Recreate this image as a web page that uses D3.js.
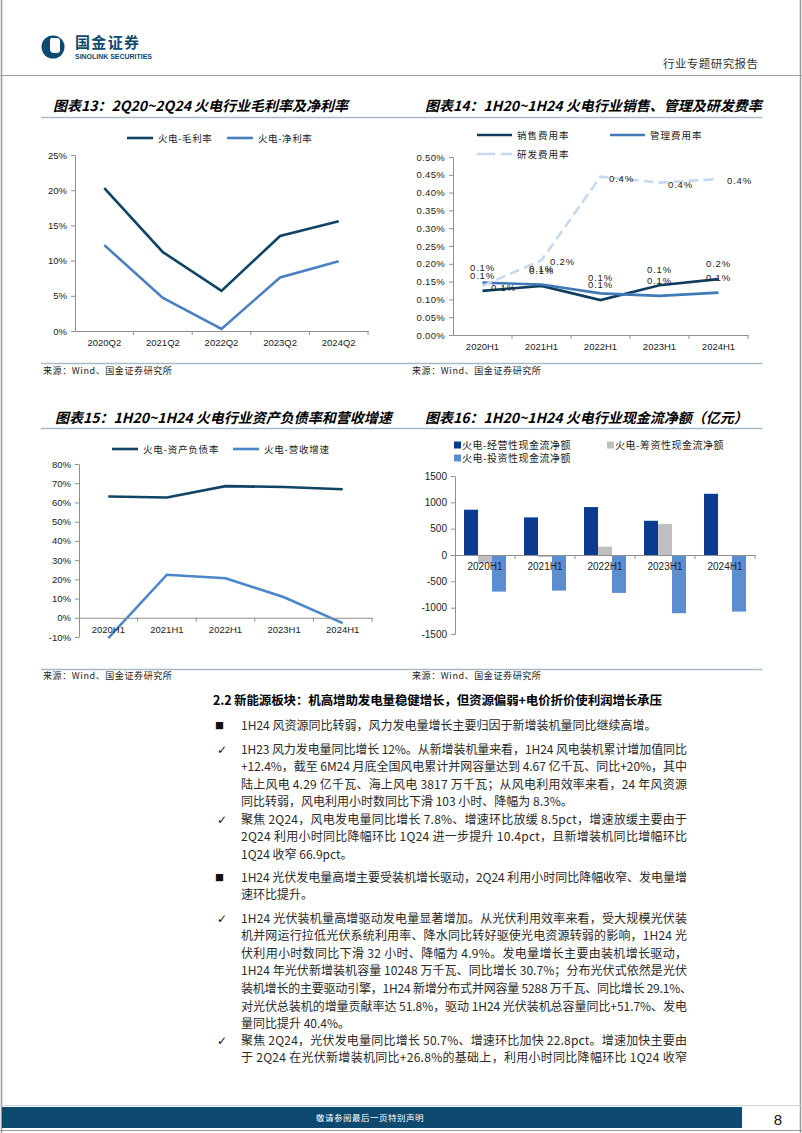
<!DOCTYPE html>
<html><head><meta charset="utf-8">
<script src="https://cdn.jsdelivr.net/npm/d3@7"></script>
<style>body{margin:0;background:#fff}svg{display:block}</style>
</head><body><svg id="c" width="802" height="1133"></svg>
<script>
const CJK = "'Noto Sans CJK SC','Noto Sans CJK JP',sans-serif";
const LAT = "'Liberation Sans',Arial,sans-serif";

// ---------- data ----------
const c13Cats = ["2020Q2","2021Q2","2022Q2","2023Q2","2024Q2"];
const grossMargin = [20.3, 11.2, 5.7, 13.5, 15.6];
const netMargin = [12.2, 4.7, 0.3, 7.6, 9.9];
const c13Ticks = [0,5,10,15,20,25];
const c13Series = ["火电-毛利率","火电-净利率"];

const halfCats = ["2020H1","2021H1","2022H1","2023H1","2024H1"];
const sellingRate = [0.124, 0.138, 0.098, 0.140, 0.157];
const adminRate = [0.147, 0.142, 0.117, 0.110, 0.119];
const rdRate = [0.138, 0.210, 0.445, 0.428, 0.438];
const c14Ticks = [0,0.05,0.10,0.15,0.20,0.25,0.30,0.35,0.40,0.45,0.50];
const c14Series = ["销售费用率","管理费用率","研发费用率"];

const debtRatio = [63.1, 62.6, 68.5, 68.0, 66.9];
const revenueGrowth = [-10.6, 22.4, 20.6, 10.7, -2.8];
const c15Ticks = [-10,0,10,20,30,40,50,60,70,80];
const c15Series = ["火电-资产负债率","火电-营收增速"];

const operatingCF = [860, 714, 910, 650, 1162];
const financingCF = [-160, -40, 158, 587, -10];
const investingCF = [-695, -676, -720, -1105, -1074];
const c16Ticks = [-1500,-1000,-500,0,500,1000,1500];
const c16Series = ["火电-经营性现金流净额","火电-筹资性现金流净额","火电-投资性现金流净额"];

const titles = ["图表13：2Q20~2Q24 火电行业毛利率及净利率","图表14：1H20~1H24 火电行业销售、管理及研发费率","图表15：1H20~1H24 火电行业资产负债率和营收增速","图表16：1H20~1H24 火电行业现金流净额（亿元）"];
const sourceText = "来源：Wind、国金证券研究所";
const heading = "2.2 新能源板块：机高增助发电量稳健增长，但资源偏弱+电价折价使利润增长承压";
const bodyParas = [
 {mark:"■", lines:["1H24 风资源同比转弱，风力发电量增长主要归因于新增装机量同比继续高增。"]},
 {mark:"✓", lines:["1H23 风力发电量同比增长 12%。从新增装机量来看，1H24 风电装机累计增加值同比","+12.4%，截至 6M24 月底全国风电累计并网容量达到 4.67 亿千瓦、同比+20%，其中","陆上风电 4.29 亿千瓦、海上风电 3817 万千瓦；从风电利用效率来看，24 年风资源","同比转弱，风电利用小时数同比下滑 103 小时、降幅为 8.3%。"]},
 {mark:"✓", lines:["聚焦 2Q24，风电发电量同比增长 7.8%、增速环比放缓 8.5pct，增速放缓主要由于","2Q24 利用小时同比降幅环比 1Q24 进一步提升 10.4pct，且新增装机同比增幅环比","1Q24 收窄 66.9pct。"]},
 {mark:"■", lines:["1H24 光伏发电量高增主要受装机增长驱动，2Q24 利用小时同比降幅收窄、发电量增","速环比提升。"]},
 {mark:"✓", lines:["1H24 光伏装机量高增驱动发电量显著增加。从光伏利用效率来看，受大规模光伏装","机并网运行拉低光伏系统利用率、降水同比转好驱使光电资源转弱的影响，1H24 光","伏利用小时数同比下滑 32 小时、降幅为 4.9%。发电量增长主要由装机增长驱动，","1H24 年光伏新增装机容量 10248 万千瓦、同比增长 30.7%；分布光伏式依然是光伏","装机增长的主要驱动引擎，1H24 新增分布式并网容量 5288 万千瓦、同比增长 29.1%、","对光伏总装机的增量贡献率达 51.8%，驱动 1H24 光伏装机总容量同比+51.7%、发电","量同比提升 40.4%。"]},
 {mark:"✓", lines:["聚焦 2Q24，光伏发电量同比增长 50.7%、增速环比加快 22.8pct。增速加快主要由","于 2Q24 在光伏新增装机同比+26.8%的基础上，利用小时同比降幅环比 1Q24 收窄"], cont:true}
];

// ---------- layout ----------
const NAVY = "#0E4A70";
const AXIS = "#8f8f8f";
const svg = d3.select("#c");
svg.append("rect").attr("width",802).attr("height",1133).attr("fill","#fff");

function T(g,x,y,s,o={}){
  const t=g.append("text").attr("x",x).attr("y",y).text(s)
    .attr("font-family",o.ff||CJK).attr("font-size",o.fs||12).attr("fill",o.fill||"#000");
  if(o.fw) t.attr("font-weight",o.fw);
  if(o.fst) t.attr("font-style",o.fst);
  if(o.anchor) t.attr("text-anchor",o.anchor);
  if(o.ls!==undefined) t.attr("letter-spacing",o.ls);
  if(o.len) t.attr("textLength",o.len).attr("lengthAdjust","spacing");
  return t;
}
function L(g,x1,y1,x2,y2,c,w,dash){
  const l=g.append("line").attr("x1",x1).attr("y1",y1).attr("x2",x2).attr("y2",y2).attr("stroke",c).attr("stroke-width",w||1);
  if(dash) l.attr("stroke-dasharray",dash);
  return l;
}
function yAxis(g,y,x,ticks,fmt,fs){
  const a=g.append("g").attr("transform",`translate(${x},0)`)
    .call(d3.axisLeft(y).tickValues(ticks).tickFormat(fmt).tickSize(4).tickSizeOuter(0).tickPadding(4));
  a.select(".domain").attr("stroke",AXIS);
  a.selectAll(".tick line").attr("stroke",AXIS);
  a.selectAll("text").attr("font-family",LAT).attr("font-size",fs).attr("fill","#222");
  return a;
}
function xAxis(g,xb,yPos,fs,pad){
  const a=g.append("g").attr("transform",`translate(0,${yPos})`)
    .call(d3.axisBottom(xb).tickSize(0).tickSizeOuter(0).tickPadding(pad));
  a.select(".domain").attr("stroke",AXIS);
  a.selectAll("text").attr("font-family",LAT).attr("font-size",fs).attr("fill","#222");
  g.append("g").selectAll("line").data(xb.domain()).join("line")
    .attr("x1",d=>xb(d)+xb.bandwidth()).attr("x2",d=>xb(d)+xb.bandwidth())
    .attr("y1",yPos).attr("y2",yPos+4).attr("stroke",AXIS);
  return a;
}

// page borders
L(svg,1.5,0,1.5,1133,"#9a9a9a",1.5);
L(svg,800.5,0,800.5,1133,"#9a9a9a",1.5);

// header
const hd=svg.append("g");
hd.append("circle").attr("cx",53).attr("cy",47).attr("r",11.5).attr("fill",NAVY);
hd.append("path").attr("d","M51,38 h6 q3,0 3,3 v9 q0,3 -3,3 h-3 q-4,0 -4,-4 v-8 q0,-3 1,-3 z").attr("fill","#fff");
T(hd,75,48,"国金证券",{fs:15,fw:"bold",fill:NAVY,len:64});
T(hd,75,58.5,"SINOLINK SECURITIES",{ff:LAT,fs:7,fw:"bold",fill:NAVY,len:77});
T(hd,663,68,"行业专题研究报告",{fs:11.5,fill:"#333",len:95});
L(svg,0,75.5,802,75.5,"#9aa4ab",1.2);

// titles, underlines, sources
T(svg,53,111,titles[0],{fs:14,fw:"bold",fst:"italic"});
T(svg,425,111,titles[1],{fs:14,fw:"bold",fst:"italic"});
T(svg,55,423,titles[2],{fs:14,fw:"bold",fst:"italic"});
T(svg,425,423,titles[3],{fs:14,fw:"bold",fst:"italic"});
L(svg,41,117.5,762,117.5,"#a8bac8",1.5);
L(svg,41,428.5,762,428.5,"#a8bac8",1.5);
L(svg,41,363.5,762,363.5,"#a8bac8",1.5);
L(svg,41,669.5,762,669.5,"#a8bac8",1.5);
T(svg,43,374,sourceText,{fs:9,fill:"#222",ls:0.6});
T(svg,412,374,sourceText,{fs:9,fill:"#222",ls:0.6});
T(svg,43,679,sourceText,{fs:9,fill:"#222",ls:0.6});
T(svg,412,679,sourceText,{fs:9,fill:"#222",ls:0.6});

// ---------- chart 13 ----------
{
  const g=svg.append("g");
  const xb=d3.scaleBand().domain(c13Cats).range([75,368]);
  const y=d3.scaleLinear().domain([0,25]).range([331,155]);
  yAxis(g,y,75,c13Ticks,d=>d+"%",9.5);
  xAxis(g,xb,331,9.5,8);
  const cols=["#0F4466","#4A80C2"];
  [grossMargin,netMargin].forEach((s,k)=>{
    g.append("path").datum(s).attr("fill","none").attr("stroke",cols[k]).attr("stroke-width",2.6)
      .attr("d",d3.line().x((d,i)=>xb(c13Cats[i])+xb.bandwidth()/2).y(d=>y(d)));
  });
  const lx=[127,227];
  c13Series.forEach((s,k)=>{
    L(g,lx[k],138,lx[k]+26,138,cols[k],2.6);
    T(g,lx[k]+31,141.5,s,{fs:9.5,ls:0.6,fill:"#222"});
  });
}

// ---------- chart 14 ----------
{
  const g=svg.append("g");
  const xb=d3.scaleBand().domain(halfCats).range([453,748]);
  const y=d3.scaleLinear().domain([0,0.5]).range([335,157]);
  yAxis(g,y,453,c14Ticks,d=>d3.format(".2f")(d)+"%",9.5).selectAll("text").attr("letter-spacing",0.3);
  xAxis(g,xb,335,9.5,8);
  const cols=["#0F3D5F","#3F79B6","#C6D9EE"];
  const cx=i=>xb(halfCats[i])+xb.bandwidth()/2;
  const ser=[sellingRate,adminRate,rdRate];
  ser.forEach((s,k)=>{
    const p=g.append("path").datum(s).attr("fill","none").attr("stroke",cols[k]).attr("stroke-width",2.6)
      .attr("d",d3.line().x((d,i)=>cx(i)).y(d=>y(d)));
    if(k===2) p.attr("stroke-dasharray","10,5");
  });
  const fmt=d=>d3.format(".1f")(d)+"%";
  [sellingRate,adminRate].forEach(s=>{
    s.forEach((d,i)=>T(g,cx(i),y(d)-12,fmt(d),{ff:LAT,fs:9.5,anchor:"middle",fill:"#222",ls:0.8}));
  });
  rdRate.forEach((d,i)=>T(g,cx(i)+21,y(d)+5,fmt(d),{ff:LAT,fs:9.5,anchor:"middle",fill:"#222",ls:0.8}));
  L(g,477,135,512,135,cols[0],2.6); T(g,517,138.5,c14Series[0],{fs:9.5,ls:1,fill:"#222"});
  L(g,610,135,645,135,cols[1],2.6); T(g,650,138.5,c14Series[1],{fs:9.5,ls:1,fill:"#222"});
  L(g,477,154,512,154,cols[2],2.6,"18,6"); T(g,517,157.5,c14Series[2],{fs:9.5,ls:1,fill:"#222"});
}

// ---------- chart 15 ----------
{
  const g=svg.append("g");
  const xb=d3.scaleBand().domain(halfCats).range([79,372]);
  const y=d3.scaleLinear().domain([-10,80]).range([637,464]);
  yAxis(g,y,79,c15Ticks,d=>d+"%",9.5);
  const cols=["#0F4466","#4A86C8"];
  [debtRatio,revenueGrowth].forEach((s,k)=>{
    g.append("path").datum(s).attr("fill","none").attr("stroke",cols[k]).attr("stroke-width",2.6)
      .attr("d",d3.line().x((d,i)=>xb(halfCats[i])+xb.bandwidth()/2).y(d=>y(d)));
  });
  xAxis(g,xb,y(0),9.5,8);
  const lx=[112,233];
  c15Series.forEach((s,k)=>{
    L(g,lx[k],449,lx[k]+26,449,cols[k],2.6);
    T(g,lx[k]+31,452.5,s,{fs:9.5,ls:0.8,fill:"#222"});
  });
}

// ---------- chart 16 ----------
{
  const g=svg.append("g");
  const xb=d3.scaleBand().domain(halfCats).range([455,755]);
  const xs=d3.scaleBand().domain(c16Series).range([9,51]);
  const y=d3.scaleLinear().domain([-1500,1500]).range([634,476]);
  yAxis(g,y,455,c16Ticks,d=>d<0?"-"+Math.abs(d):d,10);
  const cols=["#0B3B8F","#BFBFBF","#5B8ED0"];
  const ser=[operatingCF,financingCF,investingCF];
  ser.forEach((s,k)=>{
    g.append("g").selectAll("rect").data(s).join("rect")
      .attr("x",(d,i)=>xb(halfCats[i])+xs(c16Series[k]))
      .attr("width",xs.bandwidth())
      .attr("y",d=>y(Math.max(0,d)))
      .attr("height",d=>Math.abs(y(d)-y(0)))
      .attr("fill",cols[k]);
  });
  xAxis(g,xb,y(0),10,8);
  const lg=[[454,445,0],[607,445,1],[454,458,2]];
  lg.forEach(([x,yy,k])=>{
    g.append("rect").attr("x",x).attr("y",yy-3.5).attr("width",7).attr("height",7).attr("fill",cols[k]);
    T(g,x+8,yy+3.5,c16Series[k],{fs:10,ls:0.5,fill:"#222"});
  });
}

// ---------- body text ----------
{
  const g=svg.append("g");
  T(g,213,705,heading,{fs:12.5,fw:"bold",len:449});
  const paraY=[725,749,819,877,918,1040];
  const lineH=17.6;
  const tx=241, fullW=446;
  bodyParas.forEach((p,pi)=>{
    const y0=paraY[pi];
    if(p.mark==="■") T(g,215,y0+4,p.mark,{fs:9,fill:"#111"});
    else T(g,217,y0+4.5,p.mark,{ff:"'DejaVu Sans',sans-serif",fs:12,fill:"#111"});
    p.lines.forEach((s,li)=>{
      const last=li===p.lines.length-1 && !p.cont;
      const w = s.startsWith("装机增长") ? fullW+5 : fullW;
      T(g,tx,y0+li*lineH+4.5,s,{fs:12,fill:"#2a2a2a",len:last?null:w});
    });
  });
}

// ---------- footer ----------
L(svg,0,1105.5,802,1105.5,"#c9d3da",1);
svg.append("rect").attr("x",2).attr("y",1107).attr("width",740).attr("height",21).attr("fill",NAVY);
T(svg,370,1121,"敬请参阅最后一页特别声明",{fs:8.5,fill:"#fff",anchor:"middle",ls:0.5});
T(svg,778,1125,"8",{ff:LAT,fs:15,fill:"#111",anchor:"middle"});
L(svg,0,1130.5,802,1130.5,"#9a9a9a",1);
</script></body></html>
